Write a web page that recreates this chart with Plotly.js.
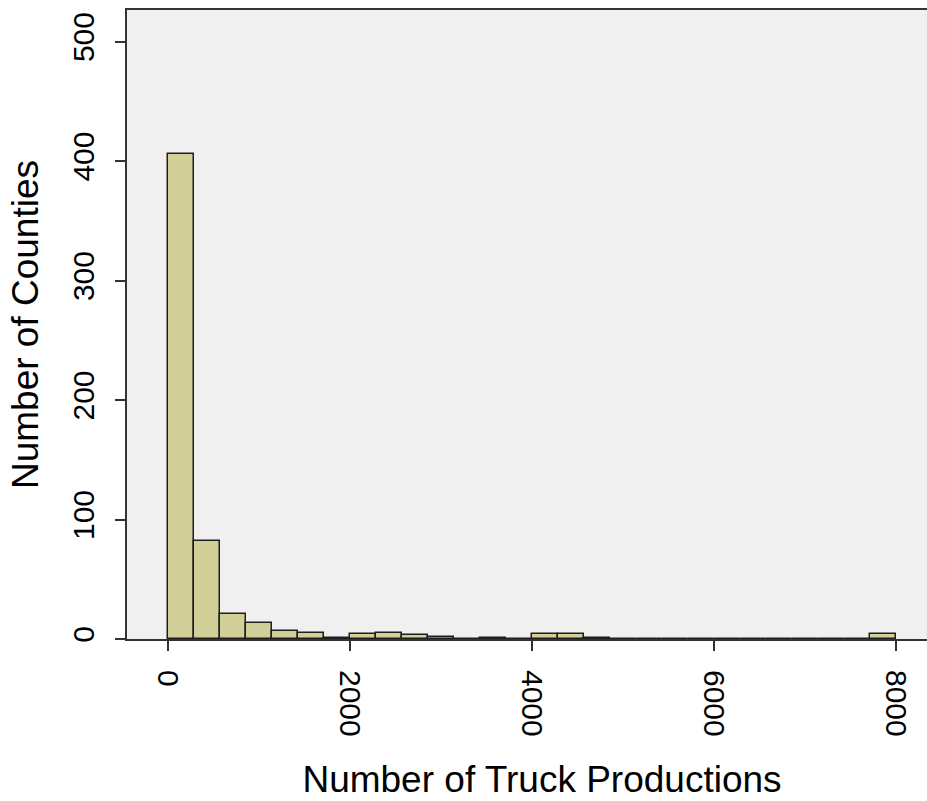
<!DOCTYPE html>
<html>
<head>
<meta charset="utf-8">
<script src="https://cdn.plot.ly/plotly-3.0.1.min.js"></script>
<style>
  html, body { margin: 0; padding: 0; overflow: hidden; background: #ffffff; }
  #chart { width: 957px; height: 801px; }
</style>
</head>
<body>
<div id="chart"></div>
<script>
// Histogram bins (lower edges) and counts
const binWidth = 285.7;
const binStarts = [0, 285.7, 571.4, 857.1, 1142.9, 1428.6, 1714.3, 2000, 2285.7, 2571.4,
                   2857.1, 3142.9, 3428.6, 3714.3, 4000, 4285.7, 4571.4, 4857.1, 5142.9, 5428.6,
                   5714.3, 6000, 6285.7, 6571.4, 6857.1, 7142.9, 7428.6, 7714.3];
const counts = [406, 82, 21, 13, 7, 5, 1, 4, 5, 3,
                2, 0, 1, 0, 4, 4, 1, 0, 0, 0,
                0, 0, 0, 0, 0, 0, 0, 4];
const xTicks = [0, 2000, 4000, 6000, 8000];
const yTicks = [0, 100, 200, 300, 400, 500];
const xTitle = "Number of Truck Productions";
const yTitle = "Number of Counties";

const font = "'Liberation Sans', Arial, sans-serif";

const trace = {
  type: 'bar',
  x: binStarts,
  y: counts,
  width: binWidth,
  offset: 0,
  marker: { color: '#d3cf98', line: { color: '#1e1e1e', width: 1.5 } },
  hoverinfo: 'x+y'
};

const layout = {
  width: 957,
  height: 801,
  margin: { l: 127, r: 0, t: 10, b: 162, autoexpand: false },
  paper_bgcolor: '#ffffff',
  plot_bgcolor: '#f0f0f0',
  showlegend: false,
  bargap: 0,
  font: { family: font, color: '#000000' },
  xaxis: {
    range: [-447, 8673],
    tickmode: 'array',
    tickvals: xTicks,
    ticktext: xTicks.map(String),
    tickangle: 90,
    ticks: 'outside',
    ticklen: 10,
    tickwidth: 2,
    tickcolor: '#333333',
    ticklabelstandoff: 13,
    tickfont: { family: font, size: 30, color: '#000000' },
    showline: true,
    linecolor: '#333333',
    linewidth: 2,
    mirror: true,
    showgrid: false,
    zeroline: false,
    automargin: false,
    title: { text: xTitle, font: { family: font, size: 37, color: '#000000' }, standoff: 30 }
  },
  yaxis: {
    range: [0, 526.4],
    tickmode: 'array',
    tickvals: yTicks,
    ticktext: yTicks.map(String),
    tickangle: -90,
    ticks: 'outside',
    ticklen: 10,
    tickwidth: 2,
    tickcolor: '#333333',
    ticklabelstandoff: 9,
    tickfont: { family: font, size: 30, color: '#000000' },
    showline: true,
    linecolor: '#333333',
    linewidth: 2,
    mirror: false,
    showgrid: false,
    zeroline: false,
    automargin: false,
    title: { text: yTitle, font: { family: font, size: 37, color: '#000000' }, standoff: 17 }
  }
};

Plotly.newPlot('chart', [trace], layout, { displayModeBar: false, responsive: false });
</script>
</body>
</html>
